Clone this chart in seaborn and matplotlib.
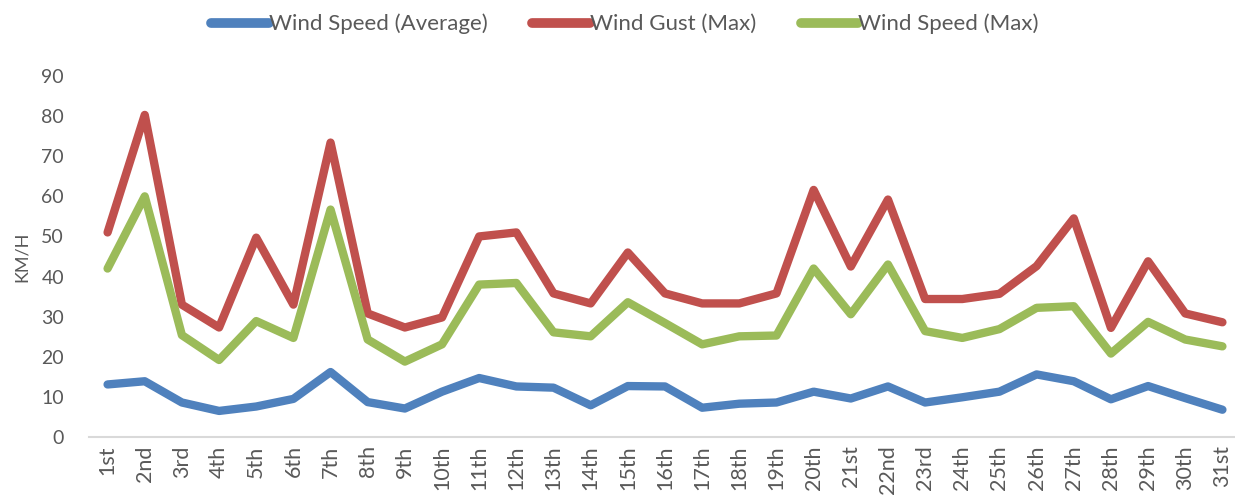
import pandas as pd
import matplotlib
matplotlib.use('Agg')
import matplotlib.pyplot as plt
import seaborn as sns

#------------------------------------------------------------------------------
#                           DATA
#------------------------------------------------------------------------------

days = ['1st', '2nd', '3rd', '4th', '5th', '6th', '7th', '8th', '9th', '10th',
        '11th', '12th', '13th', '14th', '15th', '16th', '17th', '18th', '19th', '20th',
        '21st', '22nd', '23rd', '24th', '25th', '26th', '27th', '28th', '29th', '30th', '31st']

speed_avg = [13.1, 13.9, 8.6, 6.5, 7.6, 9.5, 16.2, 8.7, 7.1, 11.3,
             14.7, 12.6, 12.3, 7.9, 12.7, 12.6, 7.3, 8.3, 8.6, 11.3,
             9.6, 12.6, 8.6, 9.9, 11.3, 15.6, 13.9, 9.4, 12.7, 9.7, 6.8]

gust_max = [51, 80.3, 33, 27.3, 49.7, 33, 73.4, 30.8, 27.3, 29.8,
            50, 51, 35.8, 33.3, 46, 35.8, 33.3, 33.3, 35.8, 61.6,
            42.5, 59.2, 34.4, 34.4, 35.7, 42.6, 54.5, 27.2, 43.8, 30.8, 28.6]

speed_max = [42, 60, 25.4, 19.2, 28.9, 24.7, 56.7, 24.3, 18.8, 23.1,
             38, 38.4, 26.1, 25.1, 33.6, 28.4, 23.1, 25.1, 25.3, 42,
             30.6, 43, 26.4, 24.7, 26.9, 32.2, 32.6, 20.8, 28.7, 24.3, 22.6]

series_names = ['Wind Speed (Average)', 'Wind Gust (Max)', 'Wind Speed (Max)']
colors = ['#4F81BD', '#C0504D', '#9BBB59']

df = pd.DataFrame({'Day': days,
                   series_names[0]: speed_avg,
                   series_names[1]: gust_max,
                   series_names[2]: speed_max})
long_df = df.melt(id_vars='Day', var_name='Series', value_name='KM/H')

#------------------------------------------------------------------------------
#                           PLOT
#------------------------------------------------------------------------------

sns.set_style('white')
plt.rcParams['font.family'] = ['Lato', 'DejaVu Sans']

fig = plt.figure(figsize=(12.35, 4.95), dpi=100)
ax = fig.add_axes([89 / 1235, 58 / 495, 1152 / 1235, 361 / 495])

sns.lineplot(data=long_df, x='Day', y='KM/H', hue='Series', hue_order=series_names,
             palette=colors, linewidth=6, sort=False, ax=ax,
             solid_capstyle='round', solid_joinstyle='round')

ax.set_xlim(-0.5, len(days) - 0.5)
ax.set_ylim(0, 90)
ax.set_yticks(range(0, 91, 10))
ax.set_xlabel('')
ax.set_ylabel('KM/H', fontsize=13, color='#595959', labelpad=8)
ax.tick_params(axis='y', labelsize=14, colors='#595959', length=0, pad=18)
ax.tick_params(axis='x', labelsize=15.5, colors='#595959', length=0, pad=6, rotation=90)

for side in ['top', 'right', 'left']:
    ax.spines[side].set_visible(False)
ax.spines['bottom'].set_color('#D9D9D9')
ax.spines['bottom'].set_linewidth(1.5)

# legend goes on the figure, top centre
handles, labels = ax.get_legend_handles_labels()
ax.get_legend().remove()
leg = fig.legend(handles, labels, loc='center', bbox_to_anchor=(625 / 1235, 1 - 24 / 495),
                 ncol=3, frameon=False, fontsize=16, handlelength=2.6, handletextpad=0.0,
                 columnspacing=2.0, labelcolor='#595959')
for line in leg.get_lines():
    line.set_linewidth(7)
    line.set_solid_capstyle('round')

fig.savefig('out.png', dpi=100)
